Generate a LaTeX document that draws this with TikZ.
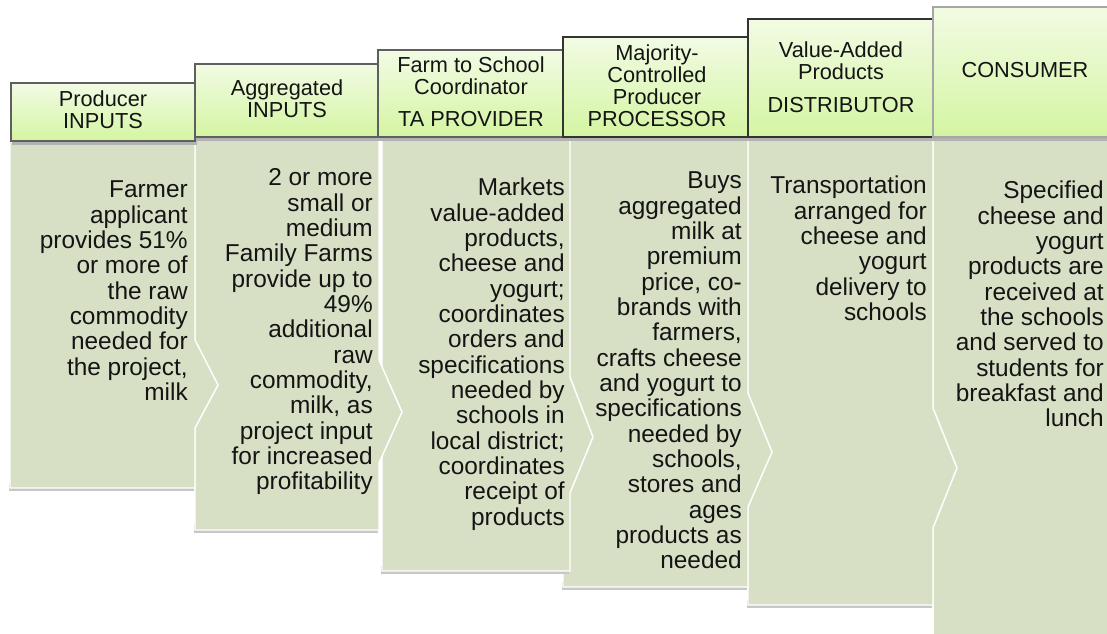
\documentclass[tikz,border=0pt]{standalone}
\usepackage{fontspec}
\setmainfont{Liberation Sans}
\definecolor{bodyfill}{RGB}{215,224,197}
\definecolor{hdrtop}{RGB}{242,251,228}
\definecolor{hdrbot}{RGB}{212,245,162}
\definecolor{hdrline}{RGB}{95,95,95}
\definecolor{txt}{RGB}{20,20,20}
\tikzset{
  bodyshape/.style={fill=bodyfill, draw=white, line width=1.1pt, line join=miter},
  bshadow/.style={fill=black!22},
  hshadow/.style={fill=black!30},
  hdr/.style={top color=hdrtop, bottom color=hdrbot, draw=hdrline, line width=0.8pt},
  hdrdark/.style={hdr, draw=black!80, line width=1.2pt},
  btext/.style={anchor=north east, align=right, inner sep=0pt, text=txt,
    font=\fontsize{18.3}{19}\selectfont},
  htext/.style={anchor=north, align=center, inner sep=0pt, text=txt,
    font=\fontsize{16.3}{16.5}\selectfont},
}
\newcommand{\fs}{\rule{0pt}{0.72em}}
\begin{document}
\begin{tikzpicture}[x=0.75pt,y=-0.75pt]
\useasboundingbox (0,0) rectangle (1107,634);
\clip (0,0) rectangle (1107,634);
% ---- bodies, right to left ----
\path[bodyshape] (933,137) -- (1120,137) -- (1120,650) -- (933,650) -- cycle;
\path[bshadow] (747,600) rectangle (932,608);
\path[bodyshape] (748,137) -- (933,137) -- (933,408) -- (957,468) -- (933,528) -- (933,605) -- (748,605) -- cycle;
\path[bshadow] (562,582) rectangle (747,590);
\path[bodyshape] (563,137) -- (748,137) -- (748,393) -- (772,452) -- (748,507) -- (748,587) -- (563,587) -- cycle;
\path[bshadow] (381,566) rectangle (569,574);
\path[bodyshape] (382,137) -- (570,137) -- (570,377) -- (593,437) -- (570,493) -- (570,571) -- (382,571) -- cycle;
\path[bshadow] (194,525) rectangle (378,533);
\path[bodyshape] (195,137) -- (379,137) -- (379,360) -- (402,412) -- (379,463) -- (379,530) -- (195,530) -- cycle;
\path[bshadow] (9,483) rectangle (194,491);
\path[bodyshape] (10,142) -- (195,142) -- (195,340) -- (218,385) -- (195,428) -- (195,488) -- (10,488) -- cycle;
% ---- headers ----
\path[hshadow] (12,86) rectangle (197,145);
\shade[hdr] (11,83) rectangle (195,141);
\path[hshadow] (196,67) rectangle (381,141);
\shade[hdr] (195,64) rectangle (379,137);
\path[hshadow] (379,53) rectangle (565,141);
\shade[hdr] (378,50) rectangle (563,137);
\path[hshadow] (564,40) rectangle (752,141);
\shade[hdrdark] (563,37) rectangle (750,137);
\path[hshadow] (749,22) rectangle (935,141);
\shade[hdrdark] (748,19) rectangle (933,137);
\path[hshadow] (934,10) rectangle (1120,141);
\shade[hdr, draw=black!35] (933,7) rectangle (1120,137);
% ---- header texts ----
\node[htext] (h1) at (103,90.5) {\fs Producer\\INPUTS};
\node[htext] (h2) at (287,79.5) {\fs Aggregated\\INPUTS};
\node[htext] (h3a) at (471,56.5) {\fs Farm to School\\Coordinator};
\node[htext] (h3b) at (471,110.5) {\fs TA PROVIDER};
\node[htext] (h4) at (657,44.5) {\fs Majority-\\Controlled\\Producer\\PROCESSOR};
\node[htext] (h5a) at (841,41.5) {\fs Value-Added\\Products};
\node[htext] (h5b) at (841,96.5) {\fs DISTRIBUTOR};
\node[htext] (h6) at (1025,61.5) {\fs CONSUMER};
% ---- body texts ----
\node[btext] (t1) at (188,180) {\fs Farmer\\applicant\\provides 51\%\\or more of\\the raw\\commodity\\needed for\\the project,\\milk};
\node[btext] (t2) at (373,168) {\fs 2 or more\\small or\\medium\\Family Farms\\provide up to\\49\%\\additional\\raw\\commodity,\\milk, as\\project input\\for increased\\profitability};
\node[btext] (t3) at (565,178) {\fs Markets\\value-added\\products,\\cheese and\\yogurt;\\coordinates\\orders and\\specifications\\needed by\\schools in\\local district;\\coordinates\\receipt of\\products};
\node[btext] (t4) at (742,171) {\fs Buys\\aggregated\\milk at\\premium\\price, co-\\brands with\\farmers,\\crafts cheese\\and yogurt to\\specifications\\needed by\\schools,\\stores and\\ages\\products as\\needed};
\node[btext] (t5) at (927,176) {\fs Transportation\\arranged for\\cheese and\\yogurt\\delivery to\\schools};
\node[btext] (t6) at (1104,181) {\fs Specified\\cheese and\\yogurt\\products are\\received at\\the schools\\and served to\\students for\\breakfast and\\lunch};
\end{tikzpicture}
\end{document}
